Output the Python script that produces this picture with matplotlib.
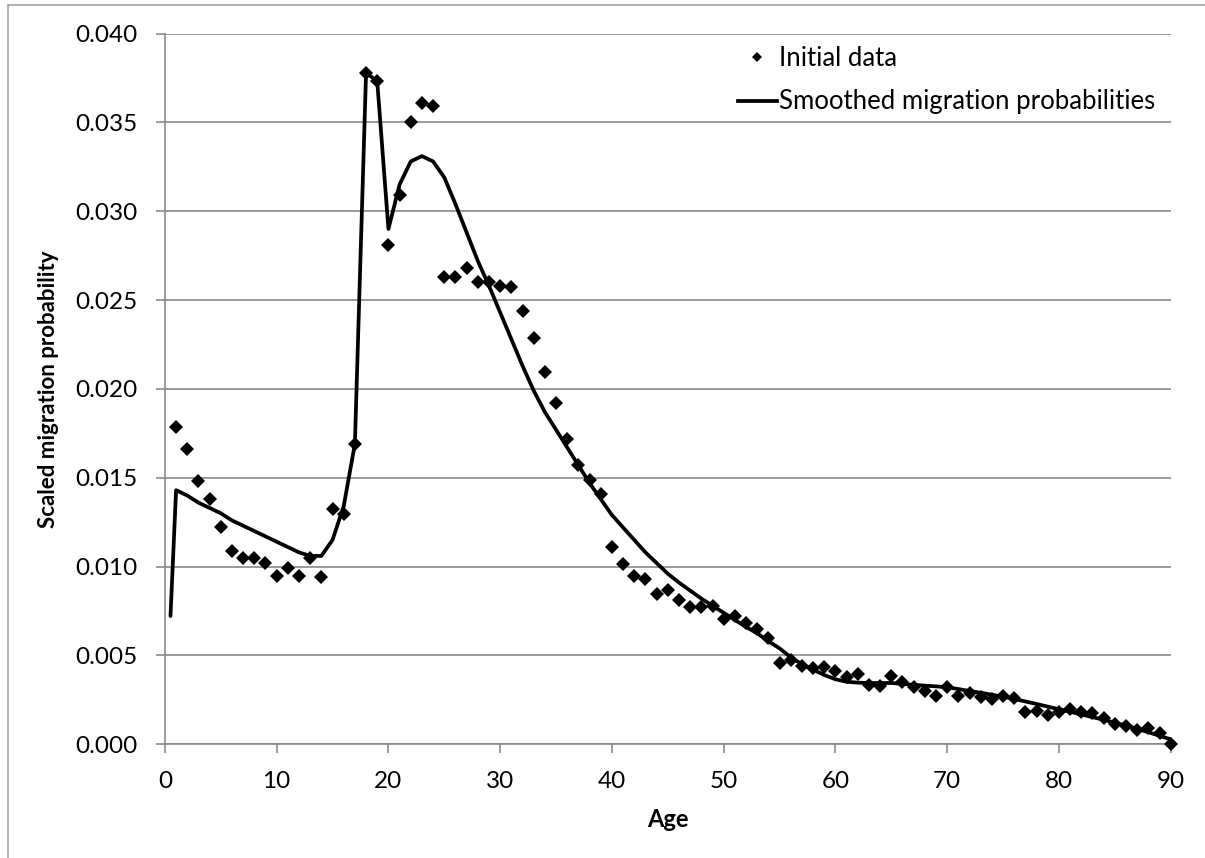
import matplotlib
matplotlib.use("Agg")
import matplotlib.pyplot as plt
from matplotlib.lines import Line2D
import numpy as np

plt.rcParams['font.family'] = ['Lato', 'DejaVu Sans']

# ---- data ----
data_ages = list(range(1, 91))
data_values = [
    0.01788, 0.01661, 0.01484, 0.01381, 0.01223, 0.01090, 0.01047, 0.01051, 0.01022, 0.00949,
    0.00994, 0.00949, 0.01047, 0.00942, 0.01323, 0.01298, 0.01692, 0.03780, 0.03730, 0.02807,
    0.03093, 0.03500, 0.03609, 0.03594, 0.02629, 0.02629, 0.02683, 0.02604, 0.02604, 0.02580,
    0.02573, 0.02436, 0.02286, 0.02094, 0.01920, 0.01719, 0.01569, 0.01488, 0.01408, 0.01109,
    0.01015, 0.00949, 0.00931, 0.00846, 0.00869, 0.00812, 0.00771, 0.00771, 0.00779, 0.00705,
    0.00722, 0.00685, 0.00647, 0.00600, 0.00456, 0.00475, 0.00441, 0.00428, 0.00437, 0.00414,
    0.00381, 0.00394, 0.00334, 0.00328, 0.00385, 0.00352, 0.00324, 0.00302, 0.00272, 0.00321,
    0.00272, 0.00290, 0.00268, 0.00253, 0.00272, 0.00259, 0.00184, 0.00189, 0.00165, 0.00184,
    0.00197, 0.00184, 0.00178, 0.00146, 0.00114, 0.00103, 0.00080, 0.00090, 0.00065, 0.00000,
]

smooth_ages = [0.5] + list(range(1, 91))
smooth_values = [
    0.00722,
    0.0143, 0.0140, 0.0136, 0.0133, 0.0130, 0.0126, 0.0123, 0.0120, 0.0117, 0.0114,
    0.0111, 0.0108, 0.0106, 0.0106, 0.0115, 0.0134, 0.0169, 0.0378, 0.0373, 0.0290,
    0.0315, 0.0328, 0.0331, 0.0328, 0.0319, 0.0304, 0.0288, 0.0272, 0.0258, 0.0243,
    0.0228, 0.0213, 0.0199, 0.0187, 0.0177, 0.0167, 0.0157, 0.0147, 0.0138, 0.0129,
    0.0122, 0.0115, 0.0108, 0.0102, 0.0096, 0.0091, 0.00865, 0.0082, 0.0078, 0.0074,
    0.0070, 0.0066, 0.00625, 0.0058, 0.0054, 0.0049, 0.0045, 0.0042, 0.0039, 0.00366,
    0.00352, 0.00347, 0.00345, 0.00345, 0.00345, 0.0034, 0.00335, 0.0033, 0.00326, 0.00321,
    0.00311, 0.0030, 0.0029, 0.00279, 0.00268, 0.00255, 0.00241, 0.00227, 0.00212, 0.00197,
    0.00183, 0.00168, 0.00153, 0.00138, 0.00122, 0.00105, 0.00087, 0.00068, 0.00048, 0.00028,
]

x_ticks = list(range(0, 91, 10))
y_ticks = [0.000, 0.005, 0.010, 0.015, 0.020, 0.025, 0.030, 0.035, 0.040]

# ---- figure ----
W, H = 1205, 858
fig = plt.figure(figsize=(W / 100, H / 100), dpi=100)
ax = fig.add_axes([164.9 / W, 1 - 744.3 / H, (1170.7 - 164.9) / W, (744.3 - 33.5) / H])

grid_col = '#898989'
ax.set_xlim(0, 90)
ax.set_ylim(0, 0.040)
ax.set_yticks(y_ticks)
ax.set_xticks(x_ticks)
ax.set_yticklabels([f"{v:.3f}" for v in y_ticks])
ax.set_xticklabels([str(v) for v in x_ticks])
ax.yaxis.grid(True, color=grid_col, linewidth=1.2)
ax.set_axisbelow(True)
for s in ['top', 'right']:
    ax.spines[s].set_visible(False)
for s in ['left', 'bottom']:
    ax.spines[s].set_color(grid_col)
    ax.spines[s].set_linewidth(1.2)
ax.tick_params(axis='both', direction='out', length=6.5, width=1.2, color=grid_col,
               labelsize=17.5, labelcolor='black', pad=13)

ax.plot(smooth_ages, smooth_values, color='black', linewidth=2.7,
        solid_joinstyle='round', solid_capstyle='round', zorder=3,
        label='Smoothed migration probabilities')
ax.plot(data_ages, data_values, linestyle='none', marker='D', markersize=7,
        markeredgewidth=0, color='black', zorder=4, label='Initial data', clip_on=False)

ax.set_xlabel('Age', fontsize=17, fontweight='bold', labelpad=11)
ax.set_ylabel('Scaled migration probability', fontsize=16, fontweight='bold', labelpad=12)

handles = [
    Line2D([], [], linestyle='none', marker='D', markersize=5.5, markeredgewidth=0, color='black'),
    Line2D([], [], color='black', linewidth=2.7),
]
ax.legend(handles, ['Initial data', 'Smoothed migration probabilities'],
          loc='upper left', bbox_to_anchor=(738 / W, 1 - 46 / H), bbox_transform=fig.transFigure,
          frameon=False, fontsize=18.5, handlelength=1.5, handletextpad=0.1,
          labelspacing=0.72, borderpad=0, borderaxespad=0)

# outer chart border (top and left visible)
border_col = '#a6a6a6'
fig.add_artist(Line2D([8 / W, 1], [1 - 5 / H, 1 - 5 / H], transform=fig.transFigure,
                      color=border_col, linewidth=1.2))
fig.add_artist(Line2D([8 / W, 8 / W], [0, 1 - 5 / H], transform=fig.transFigure,
                      color=border_col, linewidth=1.2))

fig.savefig('out.png', dpi=100)
